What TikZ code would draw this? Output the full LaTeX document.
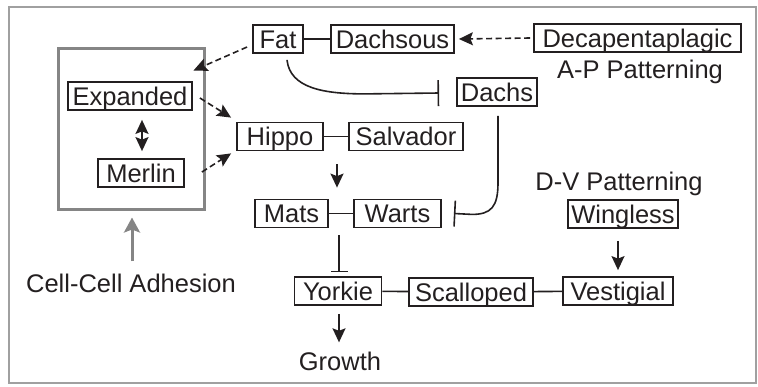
\documentclass[tikz,border=0pt]{standalone}
\usepackage{fontspec}
\setmainfont{Liberation Sans}
\usetikzlibrary{arrows.meta,calc}
\definecolor{ink}{HTML}{231F20}
\definecolor{boxgray}{HTML}{858585}
\definecolor{framegray}{HTML}{A0A0A0}
\begin{document}
\begin{tikzpicture}[x=1pt,y=-1pt,
  every node/.style={font=\fontsize{25.5}{30}\selectfont, text=ink},
  gene/.style={draw=ink, line width=1.8pt, inner xsep=0pt, inner ysep=0pt,
    text height=23pt, text depth=5pt, minimum height=28pt},
  lbl/.style={anchor=base, inner sep=0pt},
  link/.style={draw=ink, line width=1.6pt},
  tip/.tip={Stealth[length=14pt,width=13pt,inset=2.5pt]},
  act/.style={link, -tip},
  dact/.style={act, dash pattern=on 6pt off 3.5pt},
  inh/.style={link, -{Bar[width=26pt,line width=1.6pt]}},
  inhs/.style={link, -{Bar[width=17pt,line width=1.6pt]}}]
\useasboundingbox (0,0) rectangle (758,386);
\draw[framegray, line width=1.2pt] (9,7) rectangle (756,383);
% gray membrane box
\node[draw=boxgray, line width=3pt, minimum width=146pt, minimum height=161pt, inner sep=0pt] (mem) at (131,128.5) {};
% genes
\node[gene, minimum width=50pt]  (fat)  at (278,39)  {Fat};
\node[gene, minimum width=123pt] (ds)   at (392.5,39) {Dachsous};
\node[gene, minimum width=207pt] (dpp)  at (637.5,38) {Decapentaplagic};
\node[gene, minimum width=80pt]  (dachs) at (497,92) {Dachs};
\node[gene, minimum width=124pt] (ex)   at (130,96)  {Expanded};
\node[gene, minimum width=86pt]  (mer)  at (141,173) {Merlin};
\node[gene, minimum width=86pt]  (hpo)  at (280,136.5) {Hippo};
\node[gene, minimum width=114pt] (sav)  at (406,136.5) {Salvador};
\node[gene, minimum width=73pt]  (mats) at (291.5,213.5) {Mats};
\node[gene, minimum width=87pt]  (wts)  at (397.5,213.5) {Warts};
\node[gene, minimum width=87pt]  (yki)  at (338,291) {Yorkie};
\node[gene, minimum width=124pt] (sd)   at (471,292) {Scalloped};
\node[gene, minimum width=110pt] (vg)   at (618,291) {Vestigial};
\node[gene, minimum width=110pt] (wg)   at (623,214) {Wingless};
% labels
\node[lbl] (ap)   at (640,78.5) {A-P Patterning};
\node[lbl] (dv)   at (619,190)  {D-V Patterning};
\node[lbl] (cca)  at (131,292)  {Cell-Cell Adhesion};
\node[lbl] (grow) at (340,370)  {Growth};
% plain links
\draw[link] (fat) -- (ds);
\draw[link] (hpo) -- (sav);
\draw[link] (mats) -- (wts);
\draw[link] (yki) -- (sd);
\draw[link] (sd) -- (vg);
% dashed activations
\draw[dact] ($(dpp.west)+(-3,0)$) -- ($(ds.east)+(4,0)$);
\coordinate (memtip) at ($(mem.north east)+(-12,24)$);
\draw[dact] ($(fat.west)+(-5,8)$) -- (memtip);
\draw[dact] ($(ex.east)+(7,2)$) -- ($(hpo.north west)+(-5,-4)$);
\draw[dact] ($(mer.east)+(17,-1)$) -- ($(hpo.south west)+(-5,2)$);
% solid activations
\draw[act, tip-tip] ($(ex.south)+(12,9)$) -- ($(mer.north)+(1,-7)$);
\draw[act] ($(hpo.south)+(57,13)$) -- ($(mats.north)+(45.5,-11)$);
\draw[act] ($(wg.south)+(-5,12)$) -- ($(vg.north)+(0,-6)$);
\draw[act] ($(yki.south)+(1,8)$) -- ($(grow.north)+(-1,-9)$);
\draw[draw=boxgray, line width=3pt, -{Stealth[length=15pt,width=16pt,inset=3pt]}] ($(cca.north)+(1,-12)$) -- ($(mem.south)+(1,7)$);
% inhibitions
\draw[inh] ($(fat.south)+(9,6)$) .. controls ($(fat.south)+(12,34)$) and ($(fat.south)+(45,40)$) .. ($(fat.south)+(87,40)$) -- ($(dachs.west)+(-17,1)$);
\draw[inh] ($(dachs.south)+(1,9)$) -- ($(dachs.south)+(1,76)$) .. controls ($(dachs.south)+(1,100)$) and ($(dachs.south)+(-6,107.5)$) .. ($(dachs.south)+(-25,107.5)$) -- ($(wts.east)+(12,0)$);
\draw[inhs] ($(mats.south)+(47.5,7)$) -- ($(yki.north)+(1,-4)$);
\end{tikzpicture}
\end{document}
